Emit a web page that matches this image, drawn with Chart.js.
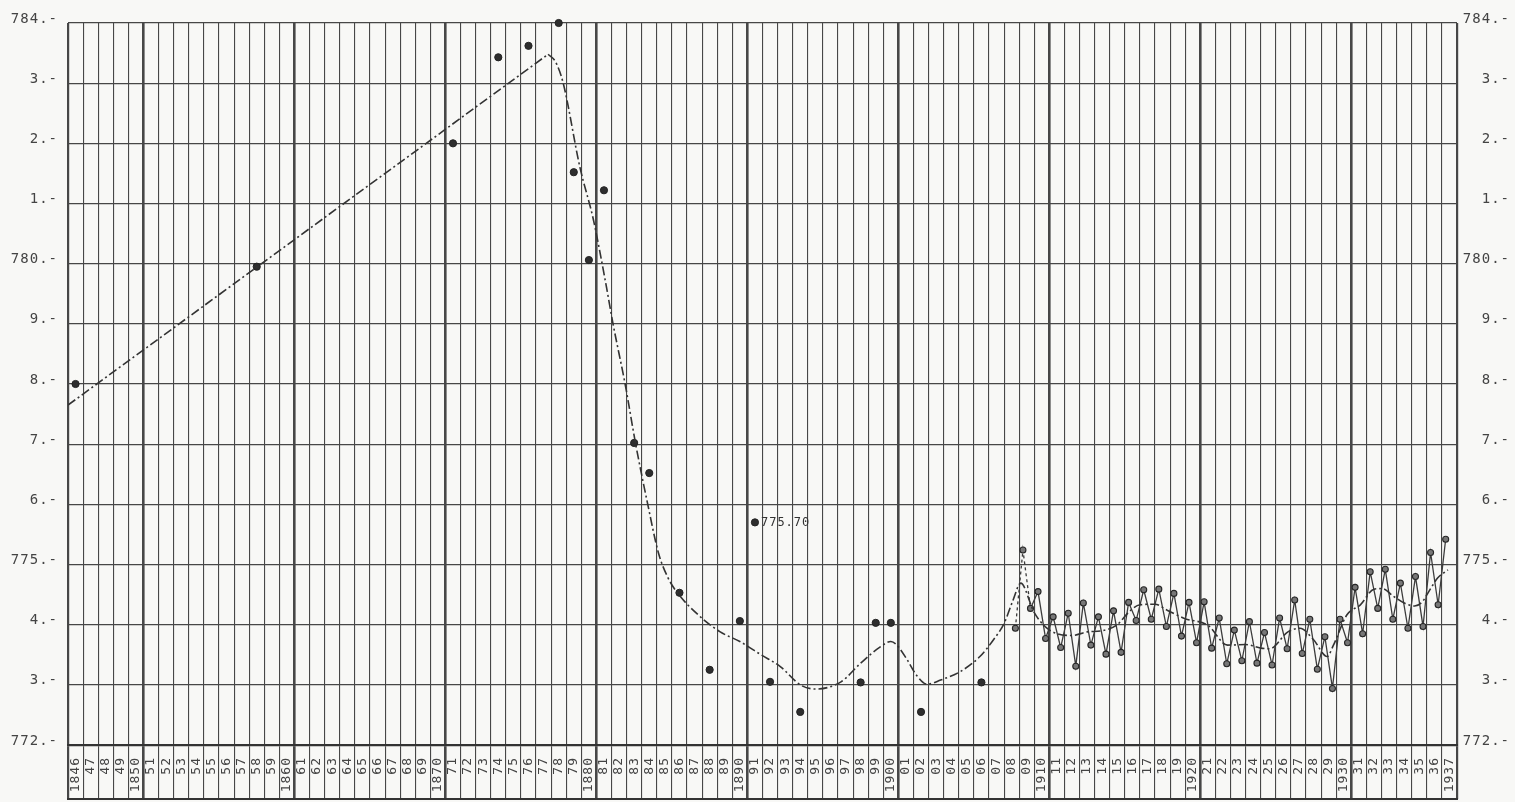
<!DOCTYPE html>
<html>
<head>
<meta charset="utf-8">
<title>Barometer 1846–1937</title>
<script src="https://cdn.jsdelivr.net/npm/chart.js@4.4.1/dist/chart.umd.min.js"></script>
<style>
  html, body { margin: 0; padding: 0; background: #f8f8f6; }
  #wrap { width: 1515px; height: 802px; position: relative; }
</style>
</head>
<body>
<div id="wrap"><canvas id="c"></canvas></div>
<script>
// Year cells along the bottom (one column per year, 1846 to 1937)
const firstYear = 1846;
const xTickLabels = [
  '1846','47','48','49','1850','51','52','53','54','55','56','57','58','59',
  '1860','61','62','63','64','65','66','67','68','69',
  '1870','71','72','73','74','75','76','77','78','79',
  '1880','81','82','83','84','85','86','87','88','89',
  '1890','91','92','93','94','95','96','97','98','99',
  '1900','01','02','03','04','05','06','07','08','09',
  '1910','11','12','13','14','15','16','17','18','19',
  '1920','21','22','23','24','25','26','27','28','29',
  '1930','31','32','33','34','35','36','1937'
];

// Pressure scale 772 … 784 (labels from bottom to top)
const yMin = 772, yMax = 784;
const yTickLabels = ['772.-','3.-','4.-','775.-','6.-','7.-','8.-','9.-','780.-','1.-','2.-','3.-','784.-'];

// Single annual readings
const annualYears  = [1846, 1858, 1871, 1874, 1876, 1878, 1879, 1880, 1881, 1883, 1884,
                      1886, 1888, 1890, 1891, 1892, 1894, 1898, 1899, 1900, 1902, 1906];
const annualValues = [778.00, 779.95, 782.00, 783.43, 783.62, 784.00, 781.52, 780.06, 781.22, 777.02, 776.52,
                      774.53, 773.25, 774.06, 775.70, 773.05, 772.55, 773.04, 774.03, 774.03, 772.55, 773.04];
const labelledYear = 1891;

// Half-year means (dates are the middle of each half-year)
const semiDates = [
  1908.75, 1909.25, 1909.75, 1910.25, 1910.75, 1911.25, 1911.75, 1912.25, 1912.75, 1913.25,
  1913.75, 1914.25, 1914.75, 1915.25, 1915.75, 1916.25, 1916.75, 1917.25, 1917.75, 1918.25,
  1918.75, 1919.25, 1919.75, 1920.25, 1920.75, 1921.25, 1921.75, 1922.25, 1922.75, 1923.25,
  1923.75, 1924.25, 1924.75, 1925.25, 1925.75, 1926.25, 1926.75, 1927.25, 1927.75, 1928.25,
  1928.75, 1929.25, 1929.75, 1930.25, 1930.75, 1931.25, 1931.75, 1932.25, 1932.75, 1933.25,
  1933.75, 1934.25, 1934.75, 1935.25, 1935.75, 1936.25, 1936.75, 1937.25
];
const semiValues = [
  773.94, 775.24, 774.27, 774.55, 773.77, 774.13, 773.62, 774.19, 773.31, 774.36,
  773.66, 774.13, 773.51, 774.23, 773.54, 774.37, 774.07, 774.58, 774.09, 774.59,
  773.97, 774.52, 773.81, 774.37, 773.70, 774.38, 773.61, 774.11, 773.35, 773.91,
  773.40, 774.05, 773.36, 773.87, 773.33, 774.11, 773.60, 774.41, 773.52, 774.09,
  773.26, 773.80, 772.94, 774.09, 773.70, 774.62, 773.85, 774.88, 774.27, 774.92,
  774.09, 774.69, 773.94, 774.80, 773.97, 775.20, 774.33, 775.42
];
// the first two half-year links are only sketched (dashed)
const sketchedLinks = 2;

// Straight rising trend up to the maximum
const riseDates  = [1846.0, 1877.8];
const riseValues = [777.65, 783.48];

// Smoothed trend curve after the maximum
const trendDates = [
  1877.8, 1878.3, 1878.8, 1879.9, 1880.8, 1881.6, 1882.1, 1882.9, 1883.6, 1884.4,
  1885.1, 1885.7, 1886.3, 1887.8, 1889.2, 1890.5, 1891.9, 1893.2, 1894.5, 1895.5,
  1897.2, 1898.5, 1899.8, 1900.5, 1900.9, 1901.6, 1902.2, 1902.9, 1903.8, 1905.1,
  1906.4, 1907.3, 1908.0, 1908.6, 1909.1, 1910.0, 1910.8, 1911.5, 1912.5, 1913.5,
  1914.5, 1915.5, 1916.3, 1917.0, 1918.0, 1918.8, 1920.0, 1921.5, 1922.8, 1924.0,
  1925.0, 1925.6, 1926.8, 1927.6, 1928.5, 1929.4, 1929.8, 1930.7, 1931.6, 1932.5,
  1933.05, 1933.8, 1934.5, 1935.2, 1935.7, 1936.25, 1936.7, 1937.4
];
const trendValues = [
  783.48, 783.35, 783.00, 781.61, 780.73, 779.70, 779.00, 778.00, 777.00, 776.00,
  775.20, 774.80, 774.55, 774.15, 773.88, 773.72, 773.50, 773.30, 773.00, 772.93,
  773.05, 773.36, 773.63, 773.72, 773.66, 773.41, 773.16, 773.01, 773.08, 773.22,
  773.47, 773.75, 774.02, 774.41, 774.69, 774.20, 773.95, 773.85, 773.82, 773.88,
  773.90, 774.00, 774.22, 774.33, 774.34, 774.24, 774.10, 773.99, 773.66, 773.67,
  773.61, 773.60, 773.88, 773.94, 773.75, 773.47, 773.65, 774.16, 774.33, 774.59,
  774.60, 774.47, 774.36, 774.31, 774.38, 774.60, 774.77, 774.91
];

const ink = '#333';
const gridInk = '#474747';
const monoFont = 'DejaVu Sans Mono';
const bandDepth = 54;   // depth of the year-label band below the plot
const trendDash = [9, 3, 2, 3];

// a thick rule closes every decade (…0 | …1) and both outer edges
function xGridWidth(ctx) {
  const i = ctx.index;
  if (i === undefined || i === 0) return 2.2;
  return ((firstYear + i) % 10 === 1) ? 2.6 : 1.1;
}

// wider letter spacing for the stencil-like lettering
const lettering = {
  id: 'lettering',
  beforeLayout(chart) { chart.ctx.letterSpacing = '1px'; },
  beforeDraw(chart) { chart.ctx.letterSpacing = '1px'; }
};

// lower rule of the year band and the value note beside one reading
const annotations = {
  id: 'annotations',
  afterDraw(chart) {
    const ctx = chart.ctx;
    const xs = chart.scales.x;
    const yBand = xs.top + xs.options.grid.tickLength;
    ctx.save();
    ctx.strokeStyle = ink;
    ctx.lineWidth = 2;
    ctx.beginPath();
    ctx.moveTo(xs.left - 1, yBand);
    ctx.lineTo(xs.right + 1, yBand);
    ctx.stroke();

    const dsIndex = chart.data.datasets.findIndex(d => d.label === 'annual');
    const meta = chart.getDatasetMeta(dsIndex);
    const idx = annualYears.indexOf(labelledYear);
    const pt = meta.data[idx];
    if (pt) {
      ctx.letterSpacing = '1px';
      ctx.font = '12px "' + monoFont + '"';
      ctx.fillStyle = ink;
      ctx.textAlign = 'left';
      ctx.textBaseline = 'middle';
      ctx.fillText(annualValues[idx].toFixed(2), pt.x + 6, pt.y);
    }
    ctx.restore();
  }
};

const yTicks = {
  stepSize: 1,
  color: '#444',
  font: { family: monoFont, size: 14 },
  labelOffset: -4,
  callback: (v) => yTickLabels[Math.round(v) - yMin]
};

new Chart(document.getElementById('c'), {
  type: 'line',
  data: {
    datasets: [
      {
        label: 'trend rise',
        data: riseDates.map((d, i) => ({ x: d, y: riseValues[i] })),
        borderColor: ink,
        borderWidth: 1.6,
        borderDash: trendDash,
        pointRadius: 0,
        tension: 0,
        fill: false
      },
      {
        label: 'trend',
        data: trendDates.map((d, i) => ({ x: d, y: trendValues[i] })),
        borderColor: ink,
        borderWidth: 1.6,
        borderDash: trendDash,
        pointRadius: 0,
        cubicInterpolationMode: 'monotone',
        fill: false
      },
      {
        label: 'half-year',
        data: semiDates.map((d, i) => ({ x: d, y: semiValues[i] })),
        borderColor: '#3c3c3c',
        borderWidth: 1.3,
        pointRadius: 3,
        pointBackgroundColor: '#777',
        pointBorderColor: '#262626',
        pointBorderWidth: 1.1,
        tension: 0,
        fill: false,
        segment: {
          borderDash: (c) => (c.p0DataIndex < sketchedLinks ? [3, 3] : undefined)
        }
      },
      {
        label: 'annual',
        data: annualYears.map((yr, i) => ({ x: yr + 0.5, y: annualValues[i] })),
        showLine: false,
        pointRadius: 3.6,
        pointBackgroundColor: '#2e2e2e',
        pointBorderColor: '#222',
        pointBorderWidth: 1,
        clip: false
      }
    ]
  },
  options: {
    responsive: true,
    maintainAspectRatio: false,
    animation: false,
    layout: { padding: { left: 0, right: 5, top: 23, bottom: 3 } },
    plugins: { legend: { display: false }, tooltip: { enabled: false } },
    scales: {
      x: {
        type: 'linear',
        position: 'bottom',
        min: firstYear,
        max: firstYear + xTickLabels.length,
        afterBuildTicks: (scale) => {
          scale.ticks = xTickLabels.map((_, i) => ({ value: firstYear + i + 0.5 }));
        },
        afterFit: (scale) => { scale.height = bandDepth; },
        ticks: {
          autoSkip: false,
          minRotation: 90,
          maxRotation: 90,
          padding: -42,
          color: '#444',
          font: { family: monoFont, size: 13 },
          callback: (v, i) => xTickLabels[i]
        },
        grid: {
          offset: true,
          color: gridInk,
          lineWidth: xGridWidth,
          drawTicks: true,
          tickLength: bandDepth
        },
        border: { display: true, color: ink, width: 2.2 }
      },
      y: {
        type: 'linear',
        position: 'left',
        min: yMin,
        max: yMax,
        afterFit: (scale) => { scale.width = 68; },
        ticks: Object.assign({ padding: 10 }, yTicks),
        grid: { color: gridInk, lineWidth: 1.3, drawTicks: false },
        border: { display: false }
      },
      y2: {
        type: 'linear',
        position: 'right',
        min: yMin,
        max: yMax,
        afterFit: (scale) => { scale.width = 53; },
        ticks: Object.assign({ padding: 6, crossAlign: 'far' }, yTicks),
        grid: { display: false, drawTicks: false },
        border: { display: false }
      }
    }
  },
  plugins: [lettering, annotations]
});
</script>
</body>
</html>
